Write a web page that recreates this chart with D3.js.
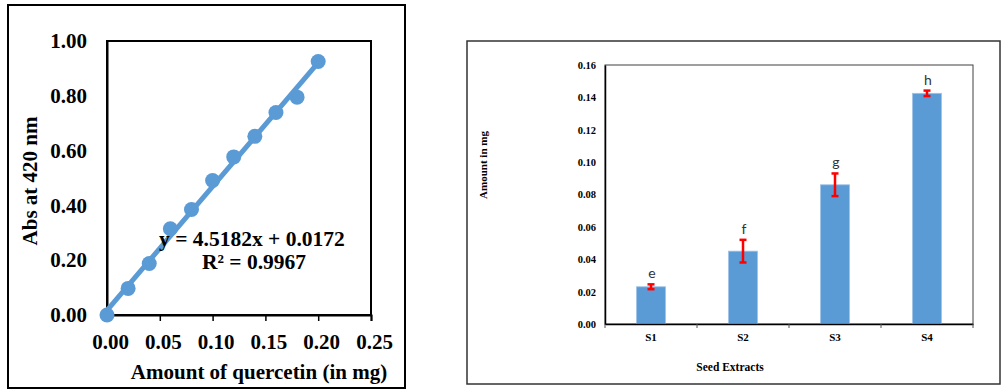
<!DOCTYPE html>
<html>
<head>
<meta charset="utf-8">
<script src="https://cdn.jsdelivr.net/npm/d3@7"></script>
<style>
  html, body { margin: 0; padding: 0; background: #fff; }
  svg { display: block; }
  .serif { font-family: "Liberation Serif", "Times New Roman", serif; font-weight: bold; }
</style>
</head>
<body>
<svg id="chart" width="1002" height="390"></svg>
<script>
// ---------- Data: left panel (calibration curve) ----------
const quercetinAmounts = [0.00, 0.02, 0.04, 0.06, 0.08, 0.10, 0.12, 0.14, 0.16, 0.18, 0.20];
const absorbances = [0.000, 0.097, 0.188, 0.315, 0.385, 0.491, 0.577, 0.652, 0.739, 0.795, 0.925];
const trendSlope = 4.5182;
const trendIntercept = 0.0172;
const equationLines = ["y = 4.5182x + 0.0172", "R² = 0.9967"];
const leftXTicks = [0.00, 0.05, 0.10, 0.15, 0.20, 0.25];
const leftYTicks = [0.00, 0.20, 0.40, 0.60, 0.80, 1.00];

// ---------- Data: right panel (seed extracts) ----------
const extracts = ["S1", "S2", "S3", "S4"];
const amounts = [0.023, 0.045, 0.086, 0.1425];
const errors = [0.0015, 0.007, 0.007, 0.0017];
const letters = ["e", "f", "g", "h"];
const rightYTicks = [0.00, 0.02, 0.04, 0.06, 0.08, 0.10, 0.12, 0.14, 0.16];

const svg = d3.select("#chart");
const blue = "#5b9bd5";

// ================= LEFT PANEL =================
svg.append("rect").attr("x", 8).attr("y", 5).attr("width", 397).attr("height", 383)
  .attr("fill", "none").attr("stroke", "#000").attr("stroke-width", 2);

const L = { left: 107, right: 371, top: 41, bottom: 315 };
const lx = d3.scaleLinear().domain([0, 0.25]).range([L.left, L.right]);
const ly = d3.scaleLinear().domain([0, 1]).range([L.bottom, L.top]);

// plot frame
svg.append("rect").attr("x", L.left).attr("y", L.top)
  .attr("width", L.right - L.left).attr("height", L.bottom - L.top)
  .attr("fill", "none").attr("stroke", "#000").attr("stroke-width", 2);

// x axis
const lxAxis = svg.append("g").attr("transform", `translate(0,${L.bottom})`)
  .call(d3.axisBottom(lx).tickValues(leftXTicks).tickFormat(d3.format(".2f")).tickSize(6).tickPadding(13));
lxAxis.select(".domain").attr("stroke", "#000").attr("stroke-width", 2);
lxAxis.selectAll(".tick line").attr("stroke", "#000").attr("stroke-width", 1.5);
lxAxis.selectAll("text").attr("class", "serif").attr("font-size", 21).attr("fill", "#000").attr("dx", 3);

// y axis
const lyAxis = svg.append("g").attr("transform", `translate(${L.left},0)`)
  .call(d3.axisLeft(ly).tickValues(leftYTicks).tickFormat(d3.format(".2f")).tickSize(0).tickPadding(20));
lyAxis.select(".domain").attr("stroke", "#000").attr("stroke-width", 2);
lyAxis.selectAll("text").attr("class", "serif").attr("font-size", 21).attr("fill", "#000");

// trendline
svg.append("line")
  .attr("x1", lx(0)).attr("y1", ly(trendIntercept))
  .attr("x2", lx(0.20)).attr("y2", ly(trendSlope * 0.20 + trendIntercept))
  .attr("stroke", blue).attr("stroke-width", 5).attr("stroke-linecap", "round");

// points
svg.append("g").selectAll("circle")
  .data(quercetinAmounts.map((x, i) => [x, absorbances[i]]))
  .join("circle")
  .attr("cx", d => lx(d[0])).attr("cy", d => ly(d[1]))
  .attr("r", 7.5).attr("fill", blue);

// equation
svg.append("text").attr("class", "serif").attr("font-size", 21.5).attr("fill", "#000")
  .attr("x", 252).attr("y", 246).attr("text-anchor", "middle").text(equationLines[0]);
svg.append("text").attr("class", "serif").attr("font-size", 21.5).attr("fill", "#000")
  .attr("x", 254).attr("y", 269).attr("text-anchor", "middle").text(equationLines[1]);

// axis titles
svg.append("text").attr("class", "serif").attr("font-size", 21).attr("fill", "#000")
  .attr("x", 259).attr("y", 379).attr("text-anchor", "middle").text("Amount of quercetin (in mg)");
svg.append("text").attr("class", "serif").attr("font-size", 21).attr("fill", "#000")
  .attr("transform", "translate(37,181) rotate(-90)").attr("text-anchor", "middle").text("Abs at 420 nm");

// ================= RIGHT PANEL =================
svg.append("rect").attr("x", 467).attr("y", 41).attr("width", 533).attr("height", 343)
  .attr("fill", "none").attr("stroke", "#333").attr("stroke-width", 1.5);

const R = { left: 605, right: 973, top: 65, bottom: 324 };
const rx = d3.scaleBand().domain(extracts).range([R.left, R.right]).paddingInner(0.685).paddingOuter(0.3425);
const ry = d3.scaleLinear().domain([0, 0.16]).range([R.bottom, R.top]);
const band = d3.scaleBand().domain(extracts).range([R.left, R.right]);

// frame (top, right)
svg.append("rect").attr("x", R.left).attr("y", R.top)
  .attr("width", R.right - R.left).attr("height", R.bottom - R.top)
  .attr("fill", "none").attr("stroke", "#404040").attr("stroke-width", 1);

// bars
svg.append("g").selectAll("rect")
  .data(extracts.map((c, i) => ({ c, v: amounts[i], e: errors[i], l: letters[i] })))
  .join("rect")
  .attr("x", d => rx(d.c)).attr("width", rx.bandwidth())
  .attr("y", d => ry(d.v)).attr("height", d => ry(0) - ry(d.v))
  .attr("fill", blue).attr("stroke", "#9ec2e8").attr("stroke-width", 0.8);

// error bars
const eb = svg.append("g").attr("stroke", "#ff0000").attr("stroke-width", 2.5);
extracts.forEach((c, i) => {
  const cx = band(c) + band.bandwidth() / 2;
  const top = ry(amounts[i] + errors[i]), bot = ry(amounts[i] - errors[i]);
  eb.append("line").attr("x1", cx).attr("x2", cx).attr("y1", top).attr("y2", bot);
  eb.append("line").attr("x1", cx - 3.5).attr("x2", cx + 3.5).attr("y1", top).attr("y2", top);
  eb.append("line").attr("x1", cx - 3.5).attr("x2", cx + 3.5).attr("y1", bot).attr("y2", bot);
  svg.append("text").attr("x", cx + 1).attr("y", top - 6)
    .attr("text-anchor", "middle").attr("font-family", "Lato, 'Open Sans', sans-serif")
    .attr("font-size", 14).attr("fill", "#333").text(letters[i]);
});

// x axis
const rxAxis = svg.append("g").attr("transform", `translate(0,${R.bottom})`)
  .call(d3.axisBottom(band).tickSize(0).tickPadding(9));
rxAxis.select(".domain").attr("stroke", "#000").attr("stroke-width", 1.5);
rxAxis.selectAll("text").attr("class", "serif").attr("font-size", 11).attr("fill", "#000");
// category boundary ticks
svg.append("g").selectAll("line")
  .data(extracts.concat(["end"]))
  .join("line")
  .attr("x1", (d, i) => i < extracts.length ? band(d) : R.right)
  .attr("x2", (d, i) => i < extracts.length ? band(d) : R.right)
  .attr("y1", R.bottom).attr("y2", R.bottom + 4)
  .attr("stroke", "#555").attr("stroke-width", 1);

// y axis
const ryAxis = svg.append("g").attr("transform", `translate(${R.left},0)`)
  .call(d3.axisLeft(ry).tickValues(rightYTicks).tickFormat(d3.format(".2f")).tickSize(0).tickPadding(9));
ryAxis.select(".domain").attr("stroke", "#000").attr("stroke-width", 1.5);
ryAxis.selectAll("text").attr("class", "serif").attr("font-size", 10.5).attr("fill", "#000");

// titles
svg.append("text").attr("class", "serif").attr("font-size", 11.5).attr("fill", "#000")
  .attr("x", 730).attr("y", 371).attr("text-anchor", "middle").text("Seed Extracts");
svg.append("text").attr("class", "serif").attr("font-size", 11).attr("fill", "#000")
  .attr("transform", "translate(487,165) rotate(-90)").attr("text-anchor", "middle").text("Amount in mg");
</script>
</body>
</html>
